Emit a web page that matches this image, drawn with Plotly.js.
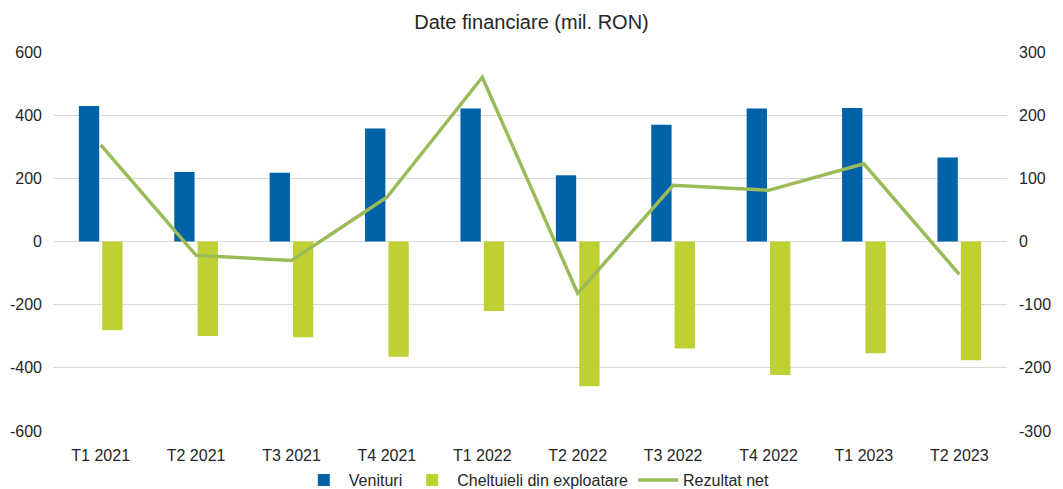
<!DOCTYPE html>
<html>
<head>
<meta charset="utf-8">
<script src="https://cdn.plot.ly/plotly-3.0.1.min.js"></script>
<style>html,body{margin:0;padding:0;background:#fff;}#chart{width:1063px;height:489px;}</style>
</head>
<body>
<div id="chart"></div>
<script>
const categories = ["T1 2021","T2 2021","T3 2021","T4 2021","T1 2022","T2 2022","T3 2022","T4 2022","T1 2023","T2 2023"];
const venituri = [429, 220, 218, 358, 421, 210, 370, 421, 423, 266];
const cheltuieli = [-281, -299, -303, -365, -220, -458, -339, -423, -354, -376];
const rezultatNet = [153, -22, -30, 70, 260, -82, 89, 81, 123, -52];
const leftTicks = [-600, -400, -200, 0, 200, 400, 600];
const rightTicks = [-300, -200, -100, 0, 100, 200, 300];

const traces = [
  {type:'bar', name:'Venituri', x:categories, y:venituri, marker:{color:'#0063A9'}, yaxis:'y'},
  {type:'bar', name:'Cheltuieli din exploatare', x:categories, y:cheltuieli, marker:{color:'#BFD032'}, yaxis:'y'},
  {type:'scatter', mode:'lines', name:'Rezultat net', x:categories, y:rezultatNet, line:{color:'#9BBB59', width:3.5}, yaxis:'y2'}
];

const FONT = 'Liberation Sans, Arial, sans-serif';
const tickFont = {family:FONT, size:16, color:'#262626'};
const layout = {
  width:1063, height:489,
  margin:{l:53, r:56, t:52, b:58},
  paper_bgcolor:'#fff', plot_bgcolor:'#fff',
  title:{text:'Date financiare (mil. RON)', x:0.5, xanchor:'center', y:0.955, yanchor:'middle',
         font:{family:FONT, size:20, color:'#262626'}},
  barmode:'group', bargap:0.51, bargroupgap:0.13,
  showlegend:true,
  legend:{orientation:'h', x:0.505, xanchor:'center', xref:'container', y:0.018, yanchor:'middle', yref:'container',
          font:{family:FONT, size:16, color:'#262626'},
          traceorder:'normal', itemwidth:40},
  xaxis:{type:'category', tickfont:tickFont, showgrid:false, zeroline:false, showline:false,
         ticks:'outside', ticklen:10, tickcolor:'rgba(0,0,0,0)'},
  yaxis:{range:[-600,600], tickvals:leftTicks, ticktext:leftTicks.map(String), tickfont:tickFont,
         showgrid:true, gridcolor:'#D9D9D9', gridwidth:1, zeroline:true, zerolinecolor:'#D9D9D9', zerolinewidth:1,
         showline:false, ticks:'', ticklabelstandoff:10, fixedrange:true},
  yaxis2:{range:[-300,300], tickvals:rightTicks, ticktext:rightTicks.map(String), tickfont:tickFont,
          overlaying:'y', side:'right', showgrid:false, zeroline:false, showline:false, ticks:'', ticklabelstandoff:11}
};
Plotly.newPlot('chart', traces, layout, {displayModeBar:false, staticPlot:true});
</script>
</body>
</html>
